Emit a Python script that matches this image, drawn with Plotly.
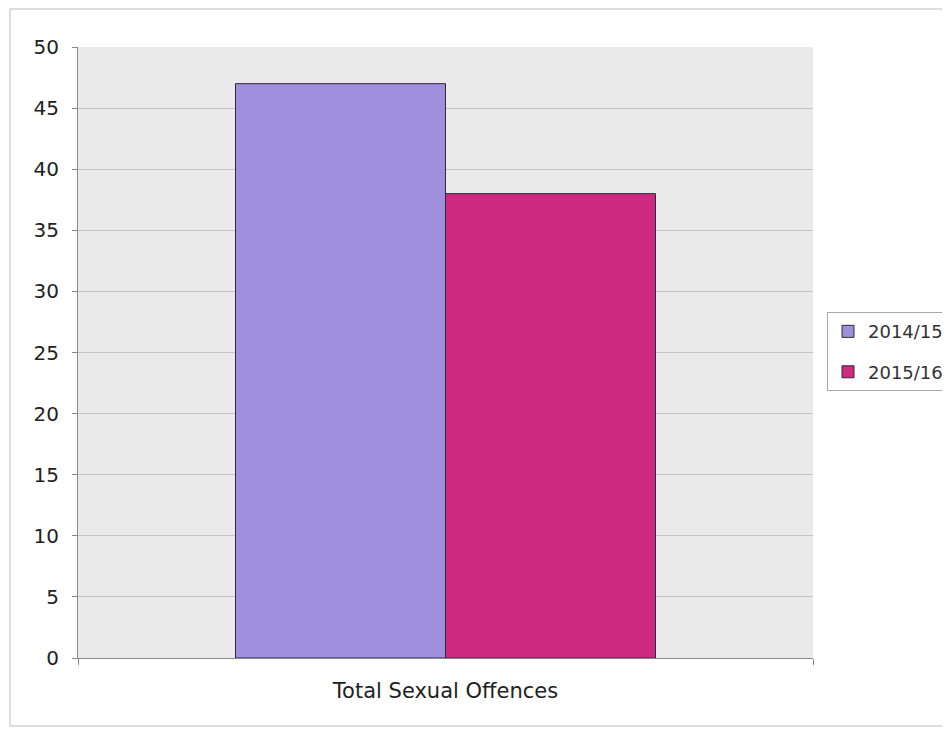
import plotly.graph_objects as go

categories = ["Total Sexual Offences"]
series_names = ["2014/15", "2015/16"]
values_2014_15 = [47]
values_2015_16 = [38]
colors = ["#A08FDC", "#CF2A80"]

fig = go.Figure()
for name, vals, col in zip(series_names, [values_2014_15, values_2015_16], colors):
    fig.add_trace(go.Bar(
        x=categories, y=vals, name=name, legendgroup=name,
        marker=dict(color=col, line=dict(color="#2a2a3a", width=1)),
    ))

# plot area in screen px: left 78, right 813, top 47, bottom 658 (page has 8px body margin)
fig.update_layout(
    width=942, height=721,
    margin=dict(l=70, r=137, t=39, b=71, autoexpand=False),
    paper_bgcolor="white",
    plot_bgcolor="#EAEAEA",
    barmode="group",
    bargap=1.5 / 3.5,
    bargroupgap=0,
    font=dict(family="DejaVu Sans, Liberation Sans, Arial, sans-serif", size=20, color="#222222"),
    showlegend=True,
    legend=dict(
        x=(827 - 78) / 735, y=0.566, xanchor="left", yanchor="top",
        bgcolor="white", bordercolor="#AAAAAA", borderwidth=1,
        font=dict(size=18, color="#333333"),
        traceorder="grouped", tracegroupgap=14,
        itemwidth=30,
    ),
    xaxis=dict(
        showline=True, linecolor="#888888", linewidth=1,
        ticks="outside", tickson="boundaries", ticklen=6, tickcolor="#888888",
        ticklabelstandoff=14,
        showgrid=False,
        tickfont=dict(size=21, color="#222222"),
    ),
    yaxis=dict(
        range=[0, 50], dtick=5, tick0=0,
        showline=True, linecolor="#888888", linewidth=1,
        ticks="outside", ticklen=5, tickcolor="#888888",
        showgrid=True, gridcolor="#C4C4C4", gridwidth=1,
        zeroline=False,
        tickfont=dict(size=20, color="#222222"),
        ticklabelstandoff=9,
    ),
    shapes=[dict(
        type="rect", xref="paper", yref="paper",
        x0=(10 - 78) / 735, x1=(960 - 78) / 735,
        y0=(658 - 726) / 611, y1=(658 - 9) / 611,
        line=dict(color="#BBBBBB", width=1), fillcolor="rgba(0,0,0,0)",
        layer="below",
    )],
)

fig.write_html("out.html")
